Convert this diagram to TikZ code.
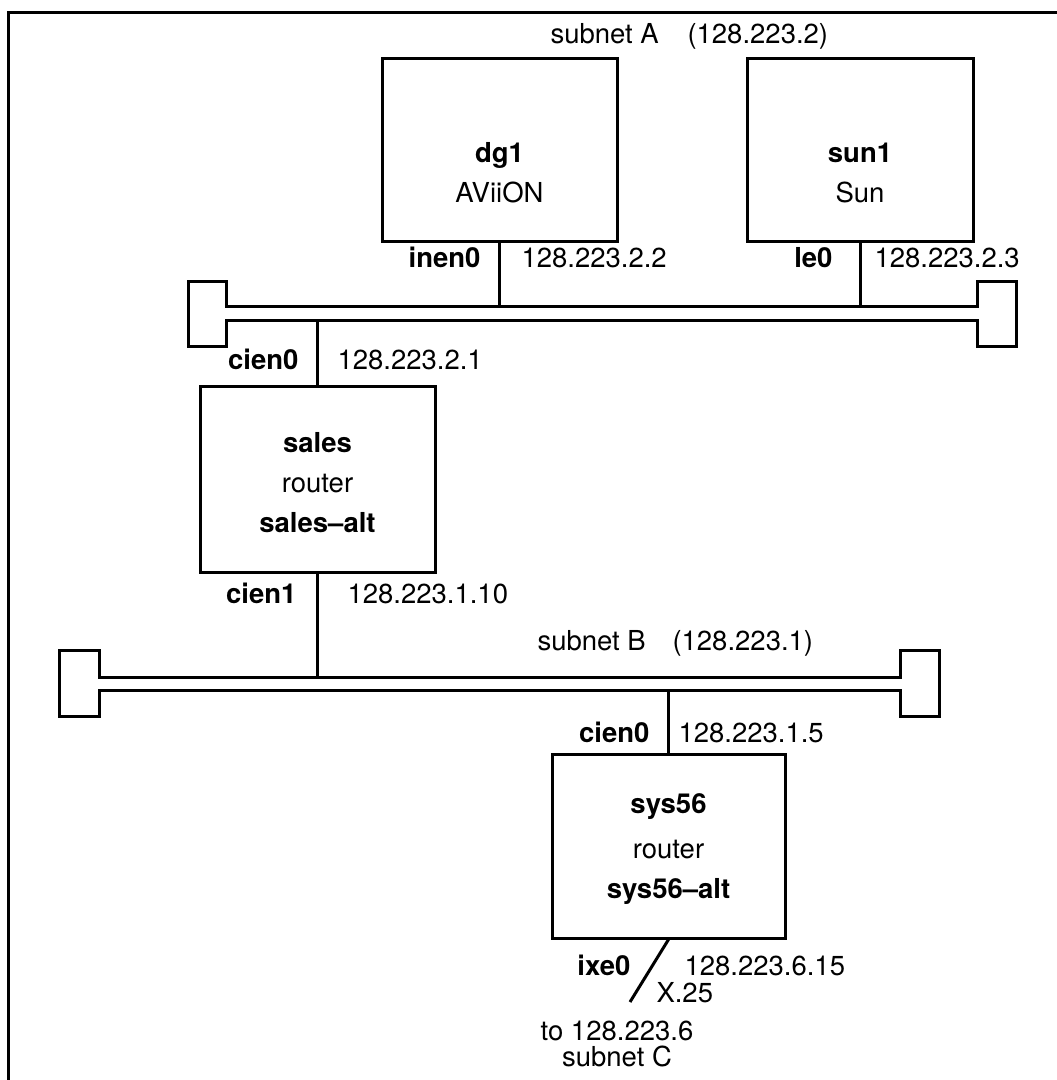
\documentclass[tikz,border=0pt]{standalone}
\usepackage{fontspec}
\setmainfont{TeX Gyre Heros}
\begin{document}
\begin{tikzpicture}[x=1pt,y=-1pt,line width=3pt,
  hostbox/.style={draw,inner sep=0pt,minimum width=#1},
  hostbox/.default=235pt,
  lbl/.style={inner sep=0pt,font=\fontsize{27.5}{30}\selectfont},
  blbl/.style={inner sep=0pt,font=\fontsize{27.5}{30}\selectfont\bfseries}]
\useasboundingbox (0,0) rectangle (1057,1080);
% frame
\draw (8,1080) -- (8,12) -- (1057,12);

% hosts
\node[hostbox=235pt,minimum height=183pt] (dg1) at (499.5,149.5) {};
\node[hostbox=226pt,minimum height=183pt] (sun1) at (860,149.5) {};
\node[hostbox=235pt,minimum height=186pt] (sales) at (317.5,479) {};
\node[hostbox=233pt,minimum height=184pt] (sys56) at (668.5,846) {};

% subnet A bus
\draw (977,306) -- (226,306) -- (226,281) -- (188,281) -- (188,346) -- (226,346) -- (226,320) -- (977,320)
      -- (977,346) -- (1016,346) -- (1016,281) -- (977,281) -- cycle;
\coordinate (busAup) at (0,306);
\coordinate (busAlow) at (0,320);

% subnet B bus
\draw (900,677) -- (99,677) -- (99,650) -- (59,650) -- (59,716) -- (99,716) -- (99,690) -- (900,690)
      -- (900,716) -- (939,716) -- (939,650) -- (900,650) -- cycle;
\coordinate (busBup) at (0,677);
\coordinate (busBlow) at (0,690);

\coordinate (x25end) at (630,1002);

% connectors
\draw (dg1.south) -- (dg1.south |- busAup);
\draw (sun1.south) -- (sun1.south |- busAup);
\draw (sales.north) -- (sales.north |- busAlow);
\draw (sales.south) -- (sales.south |- busBup);
\draw (sys56.north) -- (sys56.north |- busBlow);
\draw (sys56.south) -- (x25end);

% texts
\node[lbl,anchor=base west] (subA) at (549,43) {subnet A};
\node[lbl,anchor=base west] (subAnum) at (686,43) {(128.223.2)};

\node[blbl,anchor=base] (dg1name) at (499.5,162) {dg1};
\node[lbl,anchor=base] (dg1type) at (499.5,202) {AViiON};
\node[blbl,anchor=base] (sun1name) at (860,162) {sun1};
\node[lbl,anchor=base] (sun1type) at (860,202) {Sun};

\node[blbl,anchor=base east] (inen0) at (482,267) {inen0};
\node[lbl,anchor=base west] (inen0ip) at (520,267) {128.223.2.2};
\node[blbl,anchor=base east] (le0) at (834,267) {le0};
\node[lbl,anchor=base west] (le0ip) at (873,267) {128.223.2.3};

\node[blbl,anchor=base east] (cienA) at (300,369) {cien0};
\node[lbl,anchor=base west] (cienAip) at (336,369) {128.223.2.1};

\node[blbl,anchor=base] (salesname) at (317.5,452) {sales};
\node[lbl,anchor=base] (salestype) at (317.5,492) {router};
\node[blbl,anchor=base] (salesalt) at (317.5,532) {sales–alt};

\node[blbl,anchor=base east] (cien1) at (298,603) {cien1};
\node[lbl,anchor=base west] (cien1ip) at (346,603) {128.223.1.10};

\node[lbl,anchor=base west] (subB) at (536,650) {subnet B};
\node[lbl,anchor=base west] (subBnum) at (671,650) {(128.223.1)};

\node[blbl,anchor=base east] (cienB) at (651,742) {cien0};
\node[lbl,anchor=base west] (cienBip) at (677,742) {128.223.1.5};

\node[blbl,anchor=base] (sysname) at (668.5,813) {sys56};
\node[lbl,anchor=base] (systype) at (668.5,858) {router};
\node[blbl,anchor=base] (sysalt) at (668.5,898) {sys56–alt};

\node[blbl,anchor=base east] (ixe0) at (632,975) {ixe0};
\node[lbl,anchor=base west] (ixeip) at (683,975) {128.223.6.15};
\node[lbl,anchor=base west] (x25) at (655,1002) {X.25};
\node[lbl,anchor=base] (toC) at (617,1040) {to 128.223.6};
\node[lbl,anchor=base] (subC) at (617,1066) {subnet C};
\end{tikzpicture}
\end{document}
